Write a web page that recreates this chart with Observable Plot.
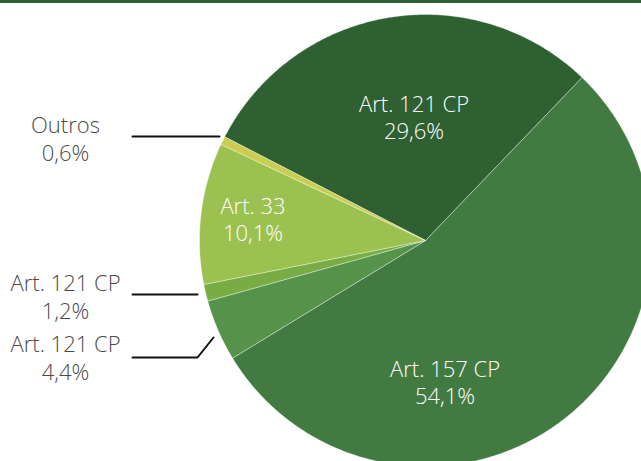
<!DOCTYPE html>
<html><head><meta charset="utf-8">
<script src="https://cdn.jsdelivr.net/npm/d3@7"></script>
<script src="https://cdn.jsdelivr.net/npm/@observablehq/plot@0.6"></script>
<style>html,body{margin:0;padding:0;background:#fff;overflow:hidden}#chart svg{overflow:hidden;display:block}</style>
</head><body><div id="chart"></div>
<script>
// Data
const categories = ["Art. 121 CP", "Art. 157 CP", "Art. 121 CP", "Art. 121 CP", "Art. 33", "Outros"];
const values = [29.6, 54.1, 4.4, 1.2, 10.1, 0.6];
const valueLabels = ["29,6%", "54,1%", "4,4%", "1,2%", "10,1%", "0,6%"];
const colors = ["#2f6032", "#427b42", "#56934a", "#78ad45", "#9bc150", "#cacd52"];

// Layout
const W = 641, H = 461, cx = 425, cy = 240, R = 226, startDeg = -62.7;
const labelLayout = [
  {x: 413.5, y: 138, inside: true},
  {x: 444.5, y: 403, inside: true},
  {x: 65, y: 379, inside: false, leader: [[132, 357], [197, 357], [213, 337]]},
  {x: 65, y: 318, inside: false, leader: [[132, 294], [197, 294]]},
  {x: 252.5, y: 240, inside: true},
  {x: 65, y: 160, inside: false, leader: [[132, 136], [219, 136]]}
];

const total = d3.sum(values);
function pt(deg, r) { const t = deg * Math.PI / 180; return [cx + r * Math.sin(t), cy - r * Math.cos(t)]; }
const poly = [];
let acc = 0;
values.forEach((v, i) => {
  const a0 = startDeg + acc / total * 360; acc += v;
  const a1 = startDeg + acc / total * 360;
  poly.push({k: i, x: cx, y: cy, c: colors[i]});
  const n = Math.max(4, Math.ceil((a1 - a0) * 2));
  for (let j = 0; j <= n; j++) {
    const [x, y] = pt(a0 + (a1 - a0) * j / n, R);
    poly.push({k: i, x, y, c: colors[i]});
  }
  poly.push({k: i, x: cx, y: cy, c: colors[i]});
});

const labels = categories.map((c, i) => ({text: c + "\n" + valueLabels[i], ...labelLayout[i]}));
const leaders = [];
labels.forEach((l, i) => { if (l.leader) l.leader.forEach(([x, y]) => leaders.push({k: i, x, y})); });

const font = "'Open Sans', sans-serif";
const plot = Plot.plot({
  width: W, height: H, margin: 0,
  x: {domain: [0, W], range: [0, W], axis: null},
  y: {domain: [0, H], range: [0, H], axis: null},
  style: {fontFamily: font, background: "#fff"},
  marks: [
    Plot.line(poly, {x: "x", y: "y", z: "k", fill: "c", stroke: "#ffffff", strokeOpacity: 0.45, strokeWidth: 0.8, curve: "linear-closed"}),
    Plot.line(leaders, {x: "x", y: "y", z: "k", stroke: "#111", strokeWidth: 2}),
    Plot.text(labels.filter(d => d.inside), {x: "x", y: "y", text: "text", fill: "#ffffff", fontSize: 22, lineAnchor: "bottom", lineHeight: 1.2, textAnchor: "middle", fontWeight: 300, letterSpacing: -0.5}),
    Plot.text(labels.filter(d => !d.inside), {x: "x", y: "y", text: "text", fill: "#4a4a4a", fontSize: 22, lineAnchor: "bottom", lineHeight: 1.23, textAnchor: "middle", fontWeight: 300, letterSpacing: -0.5}),
    Plot.ruleY([0], {stroke: "#2f6032", strokeWidth: 5})
  ]
});
document.getElementById("chart").append(plot);
</script>
</body></html>
